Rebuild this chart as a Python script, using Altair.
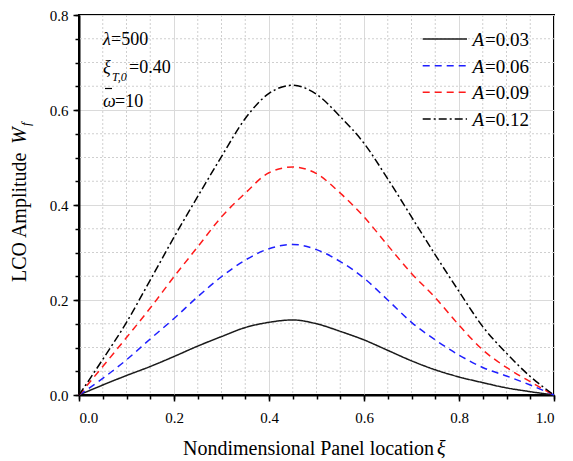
import altair as alt
import pandas as pd

# ---- data ----
xi = [0.0, 0.05, 0.1, 0.15, 0.2, 0.25, 0.3, 0.35, 0.4, 0.45, 0.5,
      0.55, 0.6, 0.65, 0.7, 0.75, 0.8, 0.85, 0.9, 0.95, 1.0]
w_a003 = [0.0, 0.021, 0.041, 0.060, 0.081, 0.103, 0.123, 0.142, 0.153, 0.158, 0.150,
          0.134, 0.116, 0.094, 0.072, 0.053, 0.038, 0.026, 0.015, 0.007, 0.0]
w_a006 = [0.0, 0.035, 0.074, 0.118, 0.161, 0.207, 0.249, 0.284, 0.308, 0.317, 0.306,
          0.281, 0.246, 0.200, 0.153, 0.116, 0.084, 0.058, 0.040, 0.021, 0.0]
w_a009 = [0.0, 0.060, 0.121, 0.183, 0.249, 0.312, 0.375, 0.425, 0.468, 0.480, 0.466,
          0.425, 0.375, 0.315, 0.256, 0.205, 0.147, 0.095, 0.058, 0.028, 0.0]
w_a012 = [0.0, 0.075, 0.153, 0.242, 0.332, 0.418, 0.502, 0.582, 0.635, 0.652, 0.633,
          0.586, 0.530, 0.455, 0.375, 0.295, 0.218, 0.144, 0.088, 0.039, 0.0]

series = ["0.03", "0.06", "0.09", "0.12"]
series_values = [w_a003, w_a006, w_a009, w_a012]
colors = ["#1a1a1a", "#1f1fff", "#ff1a1a", "#000000"]
dashes = [[1, 0], [7, 5], [7, 5], [8, 3, 2, 3]]

x_major = [0.0, 0.2, 0.4, 0.6, 0.8, 1.0]
x_minor = [0.05, 0.1, 0.15, 0.25, 0.3, 0.35, 0.45, 0.5, 0.55, 0.65, 0.7, 0.75, 0.85, 0.9, 0.95]
y_major = [0.0, 0.2, 0.4, 0.6, 0.8]
y_minor = [0.05, 0.1, 0.15, 0.25, 0.3, 0.35, 0.45, 0.5, 0.55, 0.65, 0.7, 0.75]

rows = []
for s, vals in zip(series, series_values):
    for x, v in zip(xi, vals):
        rows.append({"xi": x, "W": v, "A": s})
df = pd.DataFrame(rows)

FONT = "Liberation Serif, Times New Roman, serif"
W, H = 475, 380

xscale = alt.Scale(domain=[0, 1], nice=False, zero=False)
yscale = alt.Scale(domain=[0, 0.8], nice=False, zero=False)

color_enc = alt.Color("A:N", scale=alt.Scale(domain=series, range=colors), legend=None)
dash_enc = alt.StrokeDash("A:N", scale=alt.Scale(domain=series, range=dashes), legend=None)

lines = alt.Chart(df).mark_line(strokeWidth=1.5, interpolate="monotone").encode(
    x=alt.X("xi:Q", scale=xscale, title=None,
            axis=alt.Axis(orient="bottom", values=x_major, format=".1f",
                          labelFont=FONT, labelFontSize=15, labelColor="black",
                          labelPadding=9, tickSize=6, tickWidth=1.5, tickColor="black",
                          domainColor="black", domainWidth=2,
                          grid=True, gridColor="#dadada", gridWidth=1)),
    y=alt.Y("W:Q", scale=yscale, title=None,
            axis=alt.Axis(orient="left", values=y_major, format=".1f",
                          labelFont=FONT, labelFontSize=15, labelColor="black",
                          labelPadding=5, tickSize=6, tickWidth=1.5, tickColor="black",
                          domainColor="black", domainWidth=2,
                          grid=True, gridColor="#dadada", gridWidth=1)),
    color=color_enc,
    strokeDash=dash_enc,
    detail="A:N",
)

minor = alt.Chart(df).mark_point(opacity=0).encode(
    x=alt.X("xi:Q", scale=xscale, title=None,
            axis=alt.Axis(orient="bottom", values=x_minor + x_major, labels=False,
                          tickSize=4, tickWidth=1.5, tickColor="black", domain=False,
                          grid=False)),
    y=alt.Y("W:Q", scale=yscale, title=None,
            axis=alt.Axis(orient="left", values=y_minor + y_major, labels=False,
                          tickSize=4, tickWidth=1.5, tickColor="black", domain=False,
                          grid=False)),
)

gridx = alt.Chart(pd.DataFrame({"g": x_minor})).mark_rule(
    color="#cfcfcf", strokeWidth=1, strokeDash=[2, 2]).encode(
    x=alt.X("g:Q", scale=xscale, axis=None))
gridy = alt.Chart(pd.DataFrame({"g": y_minor})).mark_rule(
    color="#cfcfcf", strokeWidth=1, strokeDash=[2, 2]).encode(
    y=alt.Y("g:Q", scale=yscale, axis=None))

one = pd.DataFrame({"k": [0]})


def txt(s, x, y, size=18, style="normal", align="left", angle=0):
    kw = dict(font=FONT, fontSize=size, fontStyle=style, align=align,
              baseline="alphabetic", color="black")
    if angle:
        kw["angle"] = angle
    return alt.Chart(one).mark_text(**kw).encode(
        x=alt.value(x), y=alt.value(y), text=alt.value(s))


annots = [
    txt("λ", 24, 30, style="italic"),
    txt("=500", 32, 30),
    txt("ξ", 24, 58, style="italic"),
    txt("T,0", 33, 66, size=12, style="italic"),
    txt("=0.40", 50, 58),
    txt("ω", 24, 92, style="italic"),
    txt("=10", 36, 92),
    # axis titles
    txt("Nondimensional Panel location", 104, 440, size=20),
    txt("ξ", 358, 440, size=20, style="italic"),
    txt("LCO Amplitude", -53, 267, size=20, angle=270),
    txt("W", -53, 129, size=20, style="italic", angle=270),
    txt("f", -49, 111, size=13, style="italic", angle=270),
]

macron = alt.Chart(one).mark_rule(color="black", strokeWidth=1.2).encode(
    x=alt.value(26), x2=alt.value(33), y=alt.value(73.5))

legend_layers = []
row_y = [24, 50.7, 77.3, 104]
for s, c, d, yy in zip(series, colors, dashes, row_y):
    legend_layers.append(
        alt.Chart(one).mark_rule(color=c, strokeWidth=1.5, strokeDash=d).encode(
            x=alt.value(343.7), x2=alt.value(388), y=alt.value(yy)))
    legend_layers.append(txt("A", 393.5, yy + 7, size=19, style="italic"))
    legend_layers.append(txt("=" + s, 406, yy + 7, size=19))

chart = alt.layer(gridx, gridy, lines, minor, macron, *annots, *legend_layers).resolve_axis(
    x="independent", y="independent"
).properties(
    width=W, height=H,
    padding={"left": 71, "top": 7, "right": 10, "bottom": 65},
    autosize=alt.AutoSizeParams(type="none"),
).configure_view(stroke="black", strokeWidth=2)

chart.save("out.html", embed_options={"renderer": "svg", "actions": False})
